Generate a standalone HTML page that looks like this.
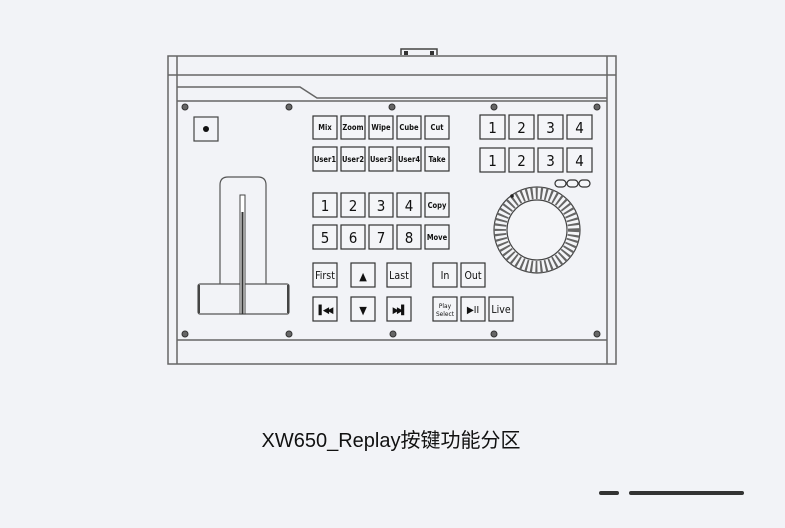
<!DOCTYPE html>
<html><head><meta charset="utf-8"><style>
html,body{margin:0;padding:0;background:#f2f3f7;}
svg{display:block}
text{font-family:"DejaVu Sans Condensed","DejaVu Sans","Liberation Sans",sans-serif;fill:#111}
</style></head><body>
<svg width="785" height="528" viewBox="0 0 785 528" xmlns="http://www.w3.org/2000/svg">
<g fill="none" stroke="#666" stroke-width="1.5">
<path d="M401 55 V49 H437 V55" stroke="#444"/>
<rect x="404" y="51" width="4" height="4" fill="#333" stroke="none"/>
<rect x="430" y="51" width="4" height="4" fill="#333" stroke="none"/>
<path d="M168 364 V56 H616 V364 Z"/>
<path d="M177 364 V56 M607 364 V56"/>
<line x1="168" y1="75" x2="616" y2="75"/>
<path d="M177 87 H300 L317 98 H607"/>
<line x1="177" y1="101" x2="607" y2="101"/>
<line x1="177" y1="340" x2="607" y2="340"/>
</g>
<g fill="#666" stroke="#333" stroke-width="1">
<circle cx="185" cy="107" r="3"/><circle cx="289" cy="107" r="3"/><circle cx="392" cy="107" r="3"/><circle cx="494" cy="107" r="3"/><circle cx="597" cy="107" r="3"/>
<circle cx="185" cy="334" r="3"/><circle cx="289" cy="334" r="3"/><circle cx="393" cy="334" r="3"/><circle cx="494" cy="334" r="3"/><circle cx="597" cy="334" r="3"/>
</g>
<rect x="194" y="117" width="24" height="24" fill="none" stroke="#444" stroke-width="1.2"/>
<circle cx="206" cy="129" r="3" fill="#111"/>
<g fill="#f2f3f7" stroke="#555" stroke-width="1.2">
<path d="M220 290 V185 Q220 177 228 177 H258 Q266 177 266 185 V290"/>
<rect x="198" y="284" width="91" height="30" rx="2"/>
</g>
<path d="M199 285 V313 M288 285 V313" stroke="#444" stroke-width="2"/>
<rect x="240" y="195" width="5" height="119" fill="#fff" stroke="#444" stroke-width="1"/>
<line x1="242.5" y1="212" x2="242.5" y2="314" stroke="#333" stroke-width="2"/>
<g fill="#f4f5f8" stroke="#333" stroke-width="1.2">
<rect x="313" y="116" width="24" height="23"/><rect x="341" y="116" width="24" height="23"/><rect x="369" y="116" width="24" height="23"/><rect x="397" y="116" width="24" height="23"/><rect x="425" y="116" width="24" height="23"/>
<rect x="313" y="147" width="24" height="24"/><rect x="341" y="147" width="24" height="24"/><rect x="369" y="147" width="24" height="24"/><rect x="397" y="147" width="24" height="24"/><rect x="425" y="147" width="24" height="24"/>
<rect x="313" y="193" width="24" height="24"/><rect x="341" y="193" width="24" height="24"/><rect x="369" y="193" width="24" height="24"/><rect x="397" y="193" width="24" height="24"/><rect x="425" y="193" width="24" height="24"/>
<rect x="313" y="225" width="24" height="24"/><rect x="341" y="225" width="24" height="24"/><rect x="369" y="225" width="24" height="24"/><rect x="397" y="225" width="24" height="24"/><rect x="425" y="225" width="24" height="24"/>
<rect x="480" y="115" width="25" height="24"/><rect x="509" y="115" width="25" height="24"/><rect x="538" y="115" width="25" height="24"/><rect x="567" y="115" width="25" height="24"/>
<rect x="480" y="148" width="25" height="24"/><rect x="509" y="148" width="25" height="24"/><rect x="538" y="148" width="25" height="24"/><rect x="567" y="148" width="25" height="24"/>
<rect x="313" y="263" width="24" height="24"/><rect x="351" y="263" width="24" height="24"/><rect x="387" y="263" width="24" height="24"/><rect x="433" y="263" width="24" height="24"/><rect x="461" y="263" width="24" height="24"/>
<rect x="313" y="297" width="24" height="24"/><rect x="351" y="297" width="24" height="24"/><rect x="387" y="297" width="24" height="24"/><rect x="433" y="297" width="24" height="24"/><rect x="461" y="297" width="24" height="24"/><rect x="489" y="297" width="24" height="24"/>
<rect x="555" y="180" width="11" height="7" rx="3.5"/><rect x="567" y="180" width="11" height="7" rx="3.5"/><rect x="579" y="180" width="11" height="7" rx="3.5"/>
</g>
<g font-size="7.5" text-anchor="middle" font-weight="bold">
<text x="325" y="130">Mix</text><text x="353" y="130">Zoom</text><text x="381" y="130">Wipe</text><text x="409" y="130">Cube</text><text x="437" y="130">Cut</text>
<text x="325" y="162">User1</text><text x="353" y="162">User2</text><text x="381" y="162">User3</text><text x="409" y="162">User4</text><text x="437" y="162">Take</text>
<text x="437" y="208">Copy</text><text x="437" y="240">Move</text>
</g>
<g font-size="15" text-anchor="middle" font-family="Liberation Sans">
<text x="325" y="211">1</text><text x="353" y="211">2</text><text x="381" y="211">3</text><text x="409" y="211">4</text>
<text x="325" y="243">5</text><text x="353" y="243">6</text><text x="381" y="243">7</text><text x="409" y="243">8</text>
<text x="492.5" y="133">1</text><text x="521.5" y="133">2</text><text x="550.5" y="133">3</text><text x="579.5" y="133">4</text>
<text x="492.5" y="166">1</text><text x="521.5" y="166">2</text><text x="550.5" y="166">3</text><text x="579.5" y="166">4</text>
</g>
<g font-size="10.5" text-anchor="middle">
<text x="325" y="279">First</text><text x="399" y="279">Last</text><text x="445" y="279">In</text><text x="473" y="279">Out</text><text x="501" y="313">Live</text>
<text x="363" y="280" font-size="11">▲</text><text x="363" y="314" font-size="11">▼</text>
<text x="325" y="313" font-size="9" letter-spacing="-2">▌◀◀</text>
<text x="399" y="313" font-size="9" letter-spacing="-2">▶▶▌</text>
<text x="473" y="313" font-size="10">▶II</text>
<text x="445" y="308" font-size="6.5">Play</text><text x="445" y="316" font-size="6.5">Select</text>
</g>
<circle cx="537" cy="230" r="43" fill="#f4f5f8" stroke="#444" stroke-width="1.2"/>
<circle cx="537" cy="230" r="37" fill="none" stroke="#666" stroke-width="12" stroke-dasharray="2 2.8"/>
<circle cx="537" cy="230" r="30" fill="#f4f5f8" stroke="#444" stroke-width="1.2"/>
<circle cx="512" cy="196" r="1.8" fill="#222"/>
<text x="391" y="447" font-size="20" text-anchor="middle" fill="#222" style="font-family:'Liberation Sans','Noto Sans CJK SC',sans-serif">XW650_Replay按键功能分区</text>
<rect x="599" y="491" width="20" height="4" rx="2" fill="#333"/>
<rect x="629" y="491" width="115" height="4" rx="2" fill="#333"/>
</svg>
</body></html>
